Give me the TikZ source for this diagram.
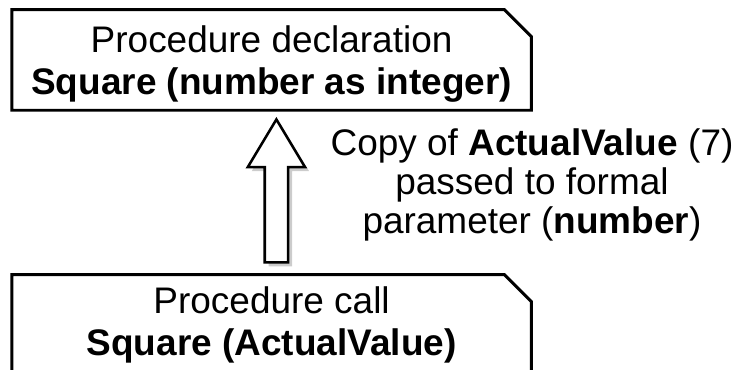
\documentclass[tikz,border=0pt]{standalone}
\usepackage{fontspec}
\setmainfont{Liberation Sans}
\usetikzlibrary{shapes.arrows, shadows}

\begin{document}
\begin{tikzpicture}[
        procbox/.style={rectangle, minimum width=12.975cm, inner sep=0pt},
        boxline/.style={line width=2.1pt, line join=miter},
        txt/.style={align=center, inner sep=0pt, font=\fontsize{26.3}{29.9}\selectfont},
        note/.style={txt, font=\fontsize{26.3}{27.7}\selectfont},
        passarrow/.style={single arrow, draw, fill=white, line width=1.8pt,
            shape border rotate=90, minimum height=3.575cm, minimum width=1.375cm,
            single arrow head extend=0.425cm, single arrow tip angle=62, inner sep=0.26cm,
            drop shadow={shadow xshift=0.1cm, shadow yshift=-0.1cm, fill=black!20, opacity=1}}
    ]
    \useasboundingbox (0,0) rectangle (18.55,9.25);
    \clip (0,0) rectangle (18.55,9.25);

    % declaration
    \node[procbox, minimum height=2.5cm] (decl) at (6.79,7.75) {};
    \draw[boxline] (decl.south west) -- (decl.north west) -- ([xshift=-0.675cm]decl.north east)
        -- ([yshift=-0.675cm]decl.north east) -- (decl.south east) -- cycle;
    \node[txt] (decltext) at ([yshift=-0.09cm]decl.center) {Procedure declaration\\ \textbf{Square (number as integer)}};

    % call
    \node[procbox, minimum height=2.7cm] (call) at (6.79,1.025) {};
    \draw[boxline] (call.south west) -- (call.north west) -- ([xshift=-0.675cm]call.north east)
        -- ([yshift=-0.675cm]call.north east) -- (call.south east);
    \node[txt] (calltext) at (6.79,1.12) {Procedure call\\ \textbf{Square (ActualValue)}};

    % passing the value
    \node[passarrow, anchor=tail] (pass) at ([xshift=0.12cm, yshift=0.275cm]call.north) {};
    \node[note] (passtext) at (13.3,4.62) {Copy of \textbf{ActualValue} (7)\\ passed to formal\\ parameter (\textbf{number})};

\end{tikzpicture}
\end{document}
